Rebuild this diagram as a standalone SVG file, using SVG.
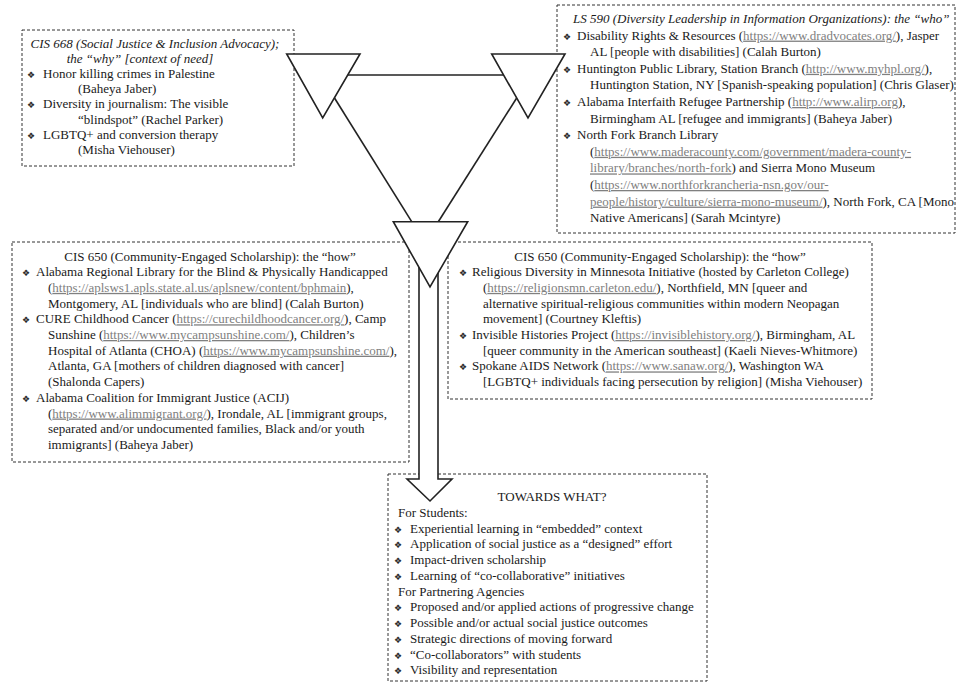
<svg xmlns="http://www.w3.org/2000/svg" width="959" height="682" viewBox="0 0 959 682">
<style>
.t{font-family:"Liberation Serif","Times New Roman",serif;font-size:13px;fill:#1a1a1a}
.i{font-style:italic}
.b{font-family:"DejaVu Sans",sans-serif;font-size:9px;fill:#2a2a2a}
.u{fill:#808080;text-decoration:underline}
.box{fill:none;stroke:#333;stroke-width:1;stroke-dasharray:3 2}
.tri{fill:#fff;stroke:#222;stroke-width:1.6;stroke-linejoin:miter}
.ln{fill:none;stroke:#222;stroke-width:1.6}
.arr{fill:#fff;stroke:#222;stroke-width:1.6;stroke-linejoin:miter}
</style>
<rect width="959" height="682" fill="#fff"/>

<g id="box-why">
<rect class="box" x="22" y="30" width="272" height="136"/>
<text class="t i" x="155" y="47.5" text-anchor="middle">CIS 668 (Social Justice &amp; Inclusion Advocacy);</text>
<text class="t i" x="140" y="62.7" text-anchor="middle">the “why” [context of need]</text>
<text class="t"><tspan class="b" x="27" y="77.9">❖</tspan><tspan x="43">Honor killing crimes in Palestine</tspan></text>
<text class="t" x="78" y="93.1">(Baheya Jaber)</text>
<text class="t"><tspan class="b" x="27" y="108.3">❖</tspan><tspan x="43">Diversity in journalism: The visible</tspan></text>
<text class="t" x="78" y="123.5">“blindspot” (Rachel Parker)</text>
<text class="t"><tspan class="b" x="27" y="138.7">❖</tspan><tspan x="43">LGBTQ+ and conversion therapy</tspan></text>
<text class="t" x="78" y="153.9">(Misha Viehouser)</text>
</g>

<g id="box-who">
<rect class="box" x="557" y="5" width="398" height="228"/>
<text class="t i" x="573" y="23">LS 590 (Diversity Leadership in Information Organizations): the “who”</text>
<text class="t"><tspan class="b" x="563" y="39.6">❖</tspan><tspan x="577">Disability Rights &amp; Resources (</tspan><tspan class="u">https://www.dradvocates.org/</tspan><tspan>), Jasper</tspan></text>
<text class="t" x="590" y="56.2">AL [people with disabilities] (Calah Burton)</text>
<text class="t"><tspan class="b" x="563" y="72.8">❖</tspan><tspan x="577">Huntington Public Library, Station Branch (</tspan><tspan class="u">http://www.myhpl.org/</tspan><tspan>),</tspan></text>
<text class="t" x="590" y="89.4">Huntington Station, NY [Spanish-speaking population] (Chris Glaser)</text>
<text class="t"><tspan class="b" x="563" y="106">❖</tspan><tspan x="577">Alabama Interfaith Refugee Partnership (</tspan><tspan class="u">http://www.alirp.org</tspan><tspan>),</tspan></text>
<text class="t" x="590" y="122.6">Birmingham AL [refugee and immigrants] (Baheya Jaber)</text>
<text class="t"><tspan class="b" x="563" y="139.2">❖</tspan><tspan x="577">North Fork Branch Library</tspan></text>
<text class="t" x="590" y="155.8">(<tspan class="u">https://www.maderacounty.com/government/madera-county-</tspan></text>
<text class="t" x="590" y="172.4"><tspan class="u">library/branches/north-fork</tspan>) and Sierra Mono Museum</text>
<text class="t" x="590" y="189">(<tspan class="u">https://www.northforkrancheria-nsn.gov/our-</tspan></text>
<text class="t" x="590" y="205.6"><tspan class="u">people/history/culture/sierra-mono-museum/</tspan>), North Fork, CA [Mono</text>
<text class="t" x="590" y="222.2">Native Americans] (Sarah Mcintyre)</text>
</g>

<g id="box-how-left">
<rect class="box" x="12" y="242" width="397" height="220"/>
<text class="t" x="210" y="260.5" text-anchor="middle">CIS 650 (Community-Engaged Scholarship): the “how”</text>
<text class="t"><tspan class="b" x="22" y="276.2">❖</tspan><tspan x="36">Alabama Regional Library for the Blind &amp; Physically Handicapped</tspan></text>
<text class="t" x="48" y="291.9">(<tspan class="u">https://aplsws1.apls.state.al.us/aplsnew/content/bphmain</tspan>),</text>
<text class="t" x="48" y="307.6">Montgomery, AL [individuals who are blind] (Calah Burton)</text>
<text class="t"><tspan class="b" x="22" y="323.3">❖</tspan><tspan x="36">CURE Childhood Cancer (</tspan><tspan class="u">https://curechildhoodcancer.org/</tspan><tspan>), Camp</tspan></text>
<text class="t" x="48" y="339">Sunshine (<tspan class="u">https://www.mycampsunshine.com/</tspan>), Children’s</text>
<text class="t" x="48" y="354.7">Hospital of Atlanta (CHOA) (<tspan class="u">https://www.mycampsunshine.com/</tspan>),</text>
<text class="t" x="48" y="370.4">Atlanta, GA [mothers of children diagnosed with cancer]</text>
<text class="t" x="48" y="386.1">(Shalonda Capers)</text>
<text class="t"><tspan class="b" x="22" y="401.8">❖</tspan><tspan x="36">Alabama Coalition for Immigrant Justice (ACIJ)</tspan></text>
<text class="t" x="48" y="417.5">(<tspan class="u">https://www.alimmigrant.org/</tspan>), Irondale, AL [immigrant groups,</text>
<text class="t" x="48" y="433.2">separated and/or undocumented families, Black and/or youth</text>
<text class="t" x="48" y="448.9">immigrants] (Baheya Jaber)</text>
</g>

<g id="box-how-right">
<rect class="box" x="448" y="242" width="424" height="157"/>
<text class="t" x="660" y="260.5" text-anchor="middle">CIS 650 (Community-Engaged Scholarship): the “how”</text>
<text class="t"><tspan class="b" x="459" y="276.2">❖</tspan><tspan x="472">Religious Diversity in Minnesota Initiative (hosted by Carleton College)</tspan></text>
<text class="t" x="483" y="291.9">(<tspan class="u">https://religionsmn.carleton.edu/</tspan>), Northfield, MN [queer and</text>
<text class="t" x="483" y="307.6">alternative spiritual-religious communities within modern Neopagan</text>
<text class="t" x="483" y="323.3">movement] (Courtney Kleftis)</text>
<text class="t"><tspan class="b" x="459" y="339">❖</tspan><tspan x="472">Invisible Histories Project (</tspan><tspan class="u">https://invisiblehistory.org/</tspan><tspan>), Birmingham, AL</tspan></text>
<text class="t" x="483" y="354.7">[queer community in the American southeast] (Kaeli Nieves-Whitmore)</text>
<text class="t"><tspan class="b" x="459" y="370.4">❖</tspan><tspan x="472">Spokane AIDS Network (</tspan><tspan class="u">https://www.sanaw.org/</tspan><tspan>), Washington WA</tspan></text>
<text class="t" x="483" y="386.1">[LGBTQ+ individuals facing persecution by religion] (Misha Viehouser)</text>
</g>

<g id="box-towards">
<rect class="box" x="388" y="474" width="319" height="207"/>
<text class="t" x="552" y="501" text-anchor="middle">TOWARDS WHAT?</text>
<text class="t" x="398" y="516.75">For Students:</text>
<text class="t"><tspan class="b" x="394" y="532.5">❖</tspan><tspan x="410">Experiential learning in “embedded” context</tspan></text>
<text class="t"><tspan class="b" x="394" y="548.25">❖</tspan><tspan x="410">Application of social justice as a “designed” effort</tspan></text>
<text class="t"><tspan class="b" x="394" y="564">❖</tspan><tspan x="410">Impact-driven scholarship</tspan></text>
<text class="t"><tspan class="b" x="394" y="579.75">❖</tspan><tspan x="410">Learning of “co-collaborative” initiatives</tspan></text>
<text class="t" x="398" y="595.5">For Partnering Agencies</text>
<text class="t"><tspan class="b" x="394" y="611.25">❖</tspan><tspan x="410">Proposed and/or applied actions of progressive change</tspan></text>
<text class="t"><tspan class="b" x="394" y="627">❖</tspan><tspan x="410">Possible and/or actual social justice outcomes</tspan></text>
<text class="t"><tspan class="b" x="394" y="642.75">❖</tspan><tspan x="410">Strategic directions of moving forward</tspan></text>
<text class="t"><tspan class="b" x="394" y="658.5">❖</tspan><tspan x="410">“Co-collaborators” with students</tspan></text>
<text class="t"><tspan class="b" x="394" y="674.25">❖</tspan><tspan x="410">Visibility and representation</tspan></text>
</g>

<g id="connectors">
<line class="ln" x1="347" y1="75" x2="504" y2="75"/>
<line class="ln" x1="334.5" y1="98" x2="411.7" y2="221.7"/>
<line class="ln" x1="516.7" y1="98" x2="438.3" y2="221.7"/>
<path class="arr" d="M419,266 L419,479 L407,479 L430,501 L452,479 L438,479 L438,272"/>
</g>

<g id="tri-why"><polygon class="tri" points="286.7,54 360,54 322.7,118"/></g>
<g id="tri-who"><polygon class="tri" points="491.7,54 565,54 528,118"/></g>
<g id="tri-how"><polygon class="tri" points="393.3,221.7 467.7,221.7 430,287"/></g>
</svg>
